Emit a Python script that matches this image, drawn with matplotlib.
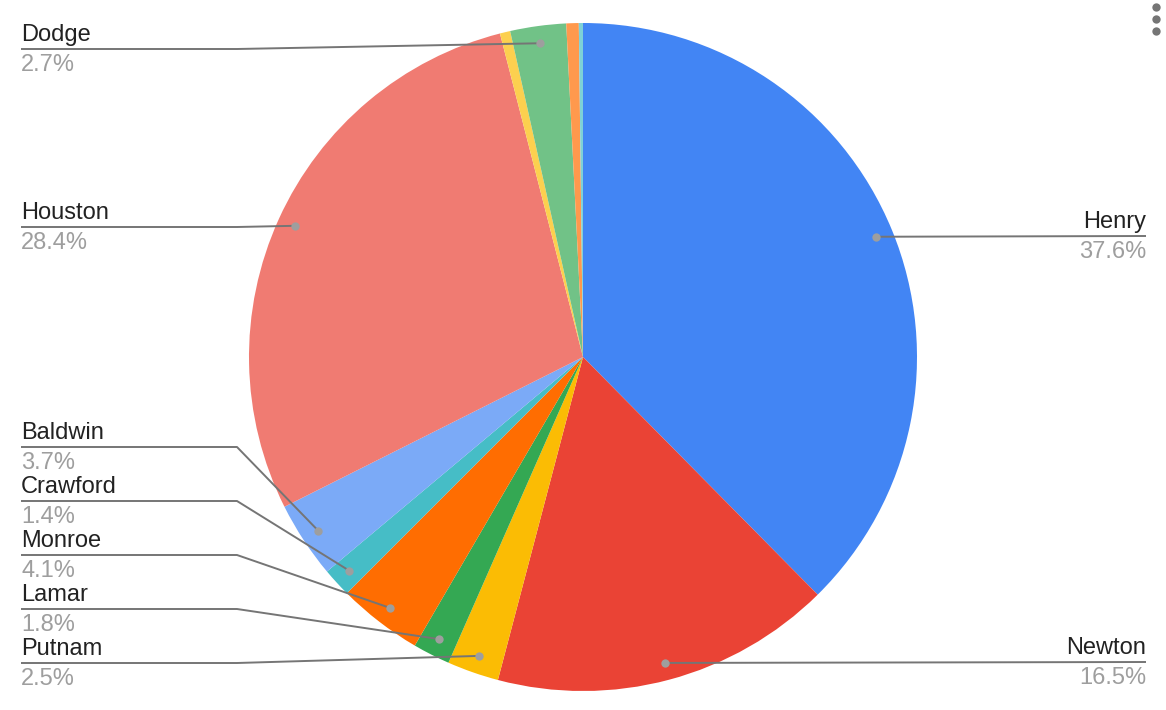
import matplotlib
matplotlib.use("Agg")
import matplotlib.pyplot as plt
import numpy as np

# ---- data ----
categories = ["Henry", "Newton", "Putnam", "Lamar", "Monroe", "Crawford",
              "Baldwin", "Houston", "", "Dodge", "", ""]
values = [37.6, 16.5, 2.5, 1.8, 4.1, 1.4, 3.7, 28.4, 0.5, 2.7, 0.6, 0.2]
colors = ["#4285F4", "#EA4335", "#FBBC04", "#34A853", "#FF6D01", "#46BDC6",
          "#7BAAF7", "#F07B72", "#FCD04F", "#71C287", "#FF994D", "#7ED1D7"]

# ---- layout (pixel coordinates, y downwards) ----
W, H = 1166, 710
cx, cy, R = 583, 357, 334
left_x, knee_x, right_x = 21, 237, 1146
label_rows = {"Dodge": ("left", 49), "Houston": ("left", 227),
              "Baldwin": ("left", 447), "Crawford": ("left", 501),
              "Monroe": ("left", 555), "Lamar": ("left", 609),
              "Putnam": ("left", 663), "Henry": ("right", 236),
              "Newton": ("right", 662)}

plt.rcParams["font.family"] = ["Liberation Sans", "DejaVu Sans"]
fig = plt.figure(figsize=(W / 100, H / 100), dpi=100)
ax = fig.add_axes([0, 0, 1, 1])

wedges, _ = ax.pie(values, colors=colors, startangle=-90, counterclock=True,
                   center=(cx, cy), radius=R,
                   wedgeprops=dict(linewidth=0))
ax.set_xlim(0, W)
ax.set_ylim(H, 0)
ax.set_aspect("equal")
ax.axis("off")

line_col = "#757575"
for w, name, v in zip(wedges, categories, values):
    if name not in label_rows:
        continue
    side, ly = label_rows[name]
    mid = np.deg2rad((w.theta1 + w.theta2) / 2)
    dx = cx + 0.948 * R * np.cos(mid)
    dy = cy + 0.948 * R * np.sin(mid)
    if side == "left":
        ax.plot([left_x, knee_x, dx], [ly, ly, dy], color=line_col, lw=1.4,
                solid_capstyle="butt", zorder=3)
        tx, ha = left_x, "left"
    else:
        ax.plot([dx, right_x], [dy, ly], color=line_col, lw=1.4,
                solid_capstyle="butt", zorder=3)
        tx, ha = right_x, "right"
    ax.plot([dx], [dy], "o", color="#9e9e9e", ms=6, mec="none", zorder=4)
    ax.text(tx, ly - 8, name, ha=ha, va="baseline", fontsize=17, color="#222222")
    ax.text(tx, ly + 22, f"{v:.1f}%", ha=ha, va="baseline", fontsize=17,
            color="#9e9e9e")

# menu dots (top right)
for yy in (7, 19, 31):
    ax.plot([1156], [yy], "o", color="#757575", ms=6, mec="none", clip_on=False)

fig.savefig("out.png", dpi=100)
